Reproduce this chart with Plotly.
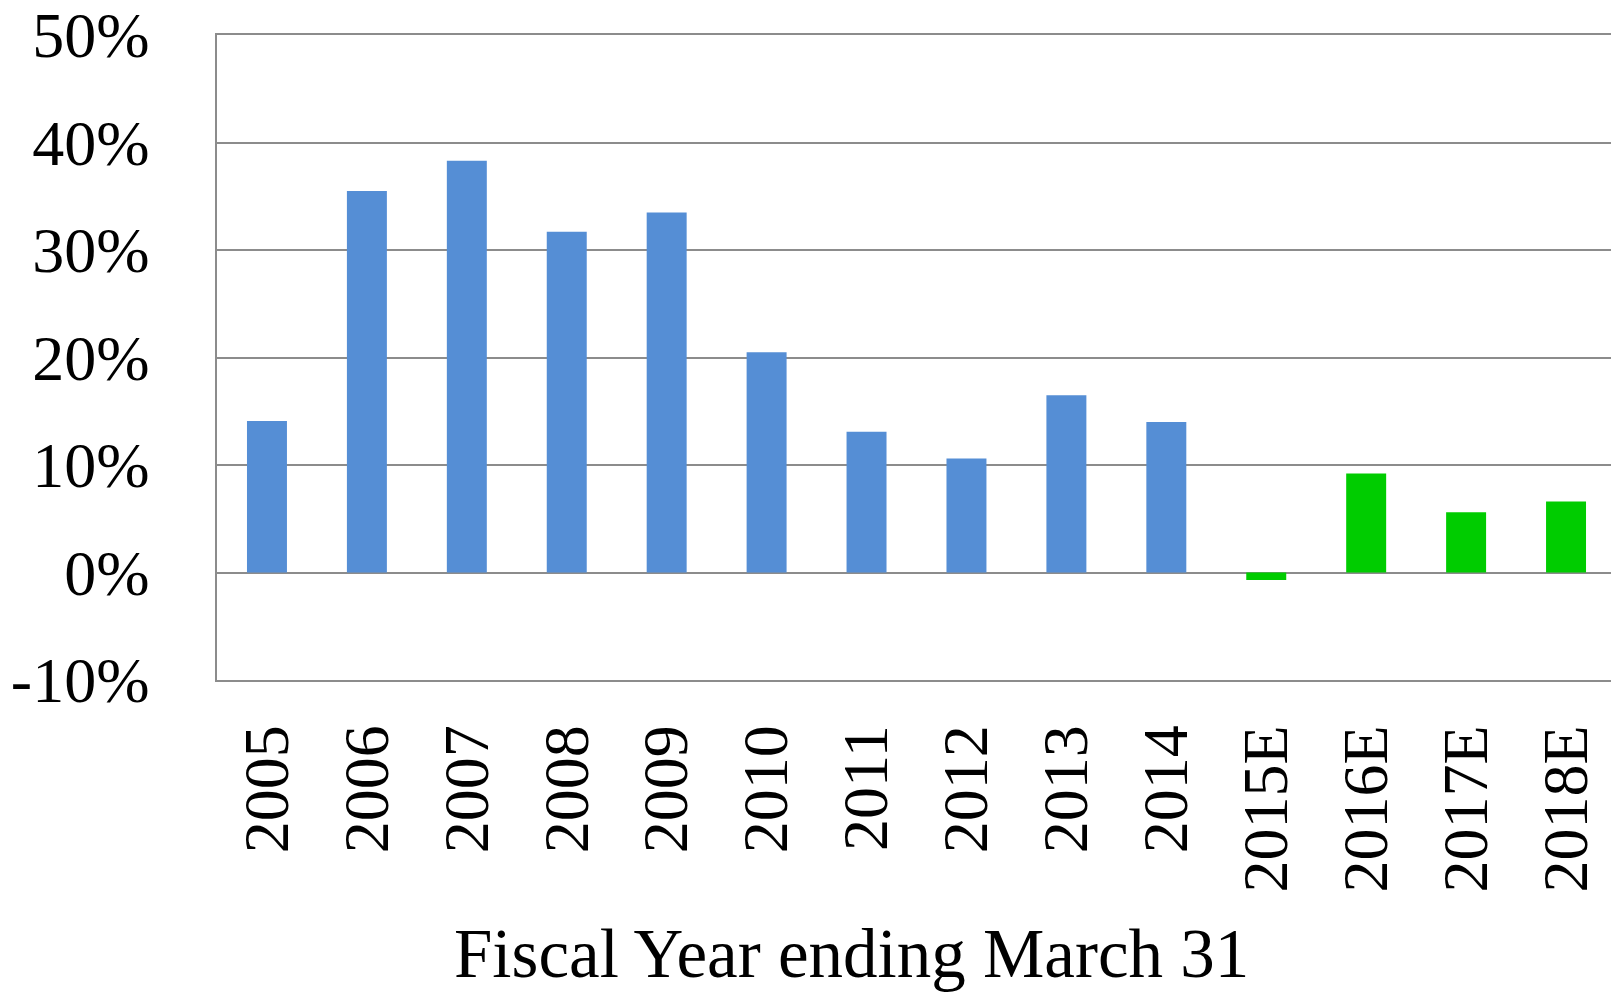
import plotly.graph_objects as go

years = ["2005", "2006", "2007", "2008", "2009", "2010", "2011", "2012",
         "2013", "2014", "2015E", "2016E", "2017E", "2018E"]
growth = [14.1, 35.5, 38.3, 31.7, 33.5, 20.5, 13.1, 10.6,
          16.5, 14.0, -0.7, 9.2, 5.6, 6.6]
is_estimate = [False] * 10 + [True] * 4

y_ticks = [-10, 0, 10, 20, 30, 40, 50]
y_tick_labels = ["-10%", "0%", "10%", "20%", "30%", "40%", "50%"]

BLUE = "#558ED5"
GREEN = "#00CC00"
GRID = "#8C8C8C"
FONT = "Liberation Serif"

bar_colors = [GREEN if e else BLUE for e in is_estimate]

fig = go.Figure()

fig.add_trace(go.Bar(
    x=years,
    y=growth,
    marker=dict(color=bar_colors, line=dict(width=0)),
    hovertemplate="%{x}: %{y:.1f}%<extra></extra>",
))

# axis title placed by hand: in the source it is not centred on the plot area
fig.add_annotation(
    text="Fiscal Year ending March 31",
    xref="paper", yref="paper",
    x=0.4535, y=-0.425,
    xanchor="center", yanchor="middle",
    showarrow=False,
    font=dict(family=FONT, size=69, color="black"),
)

# x axis line mirrored gives the -10% and 50% border lines
fig.update_xaxes(
    type="category",
    tickangle=-90,
    tickfont=dict(family=FONT, size=64, color="black"),
    ticklabelstandoff=18,
    showgrid=False,
    showline=True,
    mirror=True,
    linecolor=GRID,
    linewidth=1.5,
    ticks="",
    automargin=False,
)

fig.update_yaxes(
    range=[-10, 50],
    tickvals=y_ticks,
    ticktext=y_tick_labels,
    tickfont=dict(family=FONT, size=64, color="black"),
    ticklabelstandoff=53,
    ticklabeloverflow="allow",
    showgrid=True,
    gridcolor=GRID,
    gridwidth=1.5,
    zeroline=True,
    zerolinecolor=GRID,
    zerolinewidth=1.5,
    showline=True,
    linecolor=GRID,
    linewidth=1.5,
    ticks="",
    automargin=False,
)

# the page body adds an 8px offset, so the figure is 8px smaller on each side
fig.update_layout(
    width=1611,
    height=985,
    bargap=0.6,
    showlegend=False,
    paper_bgcolor="white",
    plot_bgcolor="white",
    margin=dict(l=209, r=3, t=27, b=313),
)

fig.write_html("out.html")
